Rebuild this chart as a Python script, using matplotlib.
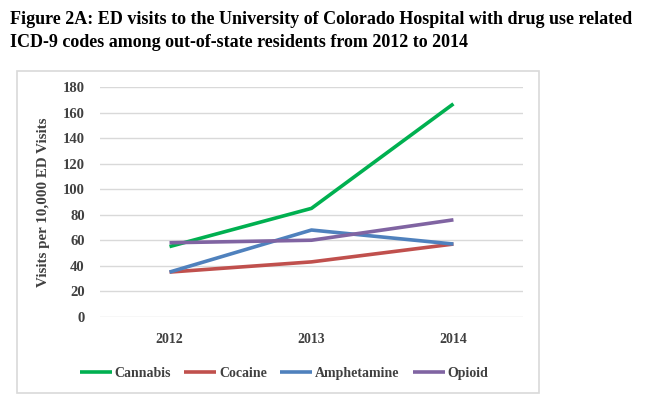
import matplotlib.pyplot as plt
from matplotlib.patches import Rectangle

years = ["2012", "2013", "2014"]
cannabis = [55, 85, 167]
cocaine = [35, 43, 57]
amphetamine = [35, 68, 57]
opioid = [58, 60, 76]

series = [
    ("Cannabis", cannabis, "#00B050"),
    ("Cocaine", cocaine, "#C0504D"),
    ("Amphetamine", amphetamine, "#4F81BD"),
    ("Opioid", opioid, "#8064A2"),
]

plt.rcParams["font.family"] = ["Liberation Serif", "DejaVu Serif"]
plt.rcParams["font.weight"] = "bold"

fig = plt.figure(figsize=(6.5, 3.98), dpi=100)
ax = fig.add_axes([0.1538, 0.2043, 0.6508, 0.5764])

x = list(range(len(years)))
for name, vals, col in series:
    ax.plot(x, vals, color=col, linewidth=2.6, label=name, solid_capstyle="butt")

ax.set_ylim(0, 180)
ax.set_yticks(range(0, 181, 20))
ax.set_xlim(-0.49, 2.49)
ax.set_xticks(x)
ax.set_xticklabels(years)
ax.grid(axis="y", color="#D9D9D9", linewidth=1)
ax.set_axisbelow(True)
for s in ax.spines.values():
    s.set_visible(False)
ax.tick_params(axis="both", length=0, colors="#404040")
ax.tick_params(axis="y", pad=11, labelsize=10.5)
ax.tick_params(axis="x", pad=12, labelsize=10)
ax.set_ylabel("Visits per 10,000 ED Visits", fontsize=10.8, fontweight="bold",
              color="#404040", labelpad=9)

fig.legend(loc="center left", bbox_to_anchor=(0.123, 0.062), ncol=4, frameon=False,
           fontsize=10, handlelength=2.3, handletextpad=0.2, columnspacing=0.95,
           labelcolor="#404040", borderaxespad=0, borderpad=0)

# chart area border
fig.patches.append(Rectangle((17 / 650, 1 - 393 / 398), 522 / 650, 322 / 398,
                             transform=fig.transFigure, fill=False,
                             edgecolor="#D9D9D9", linewidth=1.2))

fig.text(0.016, 0.972, "Figure 2A: ED visits to the University of Colorado Hospital with drug use related\n"
         "ICD-9 codes among out-of-state residents from 2012 to 2014",
         fontsize=13, fontweight="bold", va="top", ha="left", linespacing=1.45)

fig.savefig("out.png", dpi=100)
